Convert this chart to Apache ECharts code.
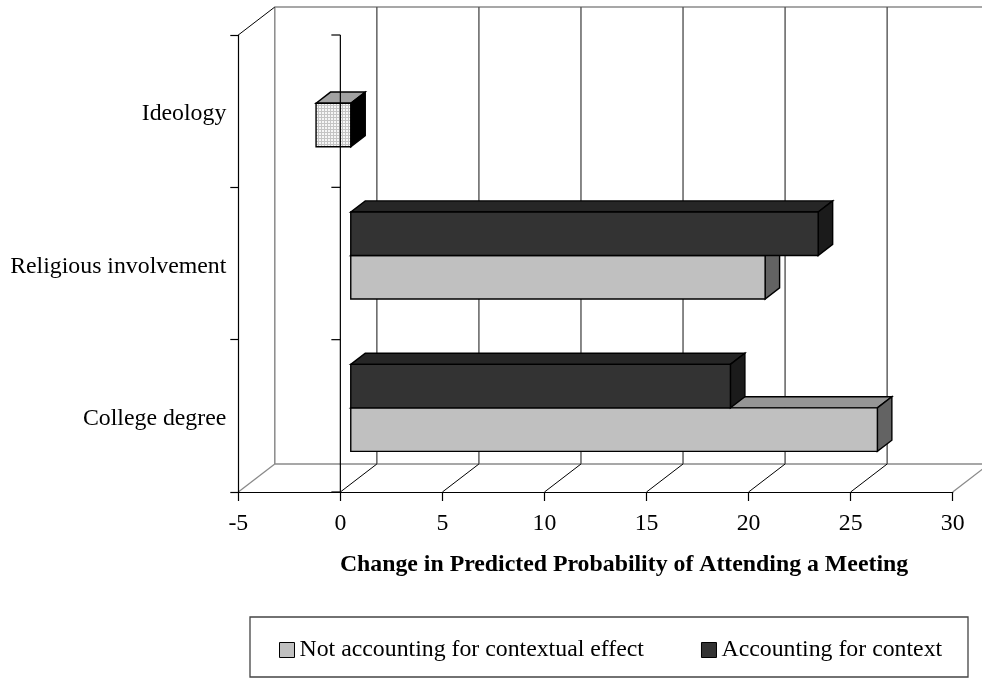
<!DOCTYPE html>
<html>
<head>
<meta charset="utf-8">
<script src="https://cdn.jsdelivr.net/npm/echarts@6/dist/echarts.min.js"></script>
<style>
  html, body { margin: 0; padding: 0; background: #ffffff; }
  #chart { width: 982px; height: 679px; }
</style>
</head>
<body>
<div id="chart"></div>
<script>
// ---- data ----
const categories = ['College degree', 'Religious involvement', 'Ideology'];
const seriesNames = ['Not accounting for contextual effect', 'Accounting for context'];
const notAccounting = [25.8, 20.3, -1.7];
const accounting = [18.6, 22.9, 0];
const xTicks = [-5, 0, 5, 10, 15, 20, 25, 30];
const axisTitle = 'Change in Predicted Probability of Attending a Meeting';

// ---- look ----
const FONT = '"Liberation Serif", "Times New Roman", serif';
const FONT_SIZE = 23.8;
const DEPTH = [36.5, -28];        // oblique offset from front plane to back wall
const BAR_FRONT = 0.285;          // bars start this far into the box
const BAR_DEPTH = 0.397;          // bar thickness as share of box depth
const GAP_WIDTH = 1.5;            // gap between bar groups, in bar heights
const WALL = '#8a8a8a';
const GRID = '#555555';

// fine grid texture used on the highlighted Ideology bar
const texture = document.createElement('canvas');
texture.width = 3; texture.height = 3;
(function () {
  const g = texture.getContext('2d');
  g.fillStyle = '#f6f6f6'; g.fillRect(0, 0, 3, 3);
  g.fillStyle = '#c4c4c4'; g.fillRect(0, 0, 3, 1); g.fillRect(0, 0, 1, 3);
})();

const faceStyles = [
  { front: '#c0c0c0', top: '#959595', side: '#636363' },
  { front: '#333333', top: '#262626', side: '#1b1b1b' }
];
const highlightStyle = { front: { image: texture, repeat: 'repeat' }, top: '#a2a2a2', side: '#000000' };

function line(x1, y1, x2, y2, stroke, w) {
  return { type: 'line', shape: { x1, y1, x2, y2 }, style: { stroke, lineWidth: w || 1 }, silent: true };
}

// walls, floor and back-wall grid of the 3D box
function renderFrame(params, api) {
  const cs = params.coordSys;
  const top = cs.y, bottom = cs.y + cs.height;
  const xv = v => api.coord([v, 0])[0];
  const [dx, dy] = DEPTH;
  const xl = xv(xTicks[0]), xr = xv(xTicks[xTicks.length - 1]);
  const ch = [];
  // back wall outline
  ch.push(line(xl + dx, top + dy, xr + dx, top + dy, WALL, 1.5));
  ch.push(line(xl + dx, top + dy, xl + dx, bottom + dy, WALL, 1.5));
  ch.push(line(xl + dx, bottom + dy, xr + dx, bottom + dy, WALL, 1.5));
  // back wall vertical grid
  xTicks.slice(1).forEach(v => ch.push(line(xv(v) + dx, top + dy, xv(v) + dx, bottom + dy, GRID, 1.4)));
  // left wall
  ch.push(line(xl, top, xl + dx, top + dy, '#000', 1));
  ch.push(line(xl, bottom, xl + dx, bottom + dy, WALL, 1.3));
  // floor grid
  xTicks.slice(1).forEach((v, i, arr) => {
    const last = i === arr.length - 1;
    ch.push(line(xv(v), bottom, xv(v) + dx, bottom + dy, last ? WALL : '#000', last ? 1.3 : 1));
  });
  return { type: 'group', children: ch };
}

// category axis drawn through zero on the front plane
function renderZeroAxis(params, api) {
  const cs = params.coordSys;
  const top = cs.y, bottom = cs.y + cs.height;
  const x0 = api.coord([0, 0])[0];
  const band = api.size([0, 1])[1];
  const ch = [line(x0, top, x0, bottom, '#000', 1.2)];
  for (let i = 0; i <= categories.length; i++) {
    const y = bottom - i * band;
    ch.push(line(x0 - 9, y, x0, y, '#000', 1.2));
  }
  return { type: 'group', children: ch };
}

function barRenderer(slot) {
  return function (params, api) {
    const value = api.value(0), cat = api.value(1);
    if (!value) return null;
    const c0 = api.coord([0, cat]), c1 = api.coord([value, cat]);
    const band = api.size([0, 1])[1];
    const bh = band / (2 + GAP_WIDTH);
    const ox = DEPTH[0] * BAR_FRONT, oy = DEPTH[1] * BAR_FRONT;
    const dx = DEPTH[0] * BAR_DEPTH, dy = DEPTH[1] * BAR_DEPTH;
    const yTop = c0[1] + (slot === 0 ? 0 : -bh) + oy;
    const yBot = yTop + bh;
    const xa = Math.min(c0[0], c1[0]) + ox, xb = Math.max(c0[0], c1[0]) + ox;
    const st = (slot === 0 && categories[cat] === 'Ideology') ? highlightStyle : faceStyles[slot];
    const edge = { stroke: '#000', lineWidth: 1.4, lineJoin: 'miter' };
    return {
      type: 'group',
      children: [
        { type: 'polygon', shape: { points: [[xa, yTop], [xb, yTop], [xb + dx, yTop + dy], [xa + dx, yTop + dy]] },
          style: Object.assign({ fill: st.top }, edge) },
        { type: 'polygon', shape: { points: [[xb, yTop], [xb + dx, yTop + dy], [xb + dx, yBot + dy], [xb, yBot]] },
          style: Object.assign({ fill: st.side }, edge) },
        { type: 'rect', shape: { x: xa, y: yTop, width: xb - xa, height: bh },
          style: Object.assign({ fill: st.front }, edge) }
      ]
    };
  };
}

const chart = echarts.init(document.getElementById('chart'), null, { renderer: 'canvas' });

chart.setOption({
  animation: false,
  backgroundColor: '#ffffff',
  grid: { left: 238.3, right: 29.3, top: 35, bottom: 187, containLabel: false },
  xAxis: {
    type: 'value',
    min: xTicks[0], max: xTicks[xTicks.length - 1], interval: 5,
    z: 10,
    axisLine: { show: true, onZero: false, lineStyle: { color: '#000', width: 1.2 } },
    axisTick: { show: true, length: 9, lineStyle: { color: '#000', width: 1.2 } },
    axisLabel: { margin: 20, color: '#000', fontFamily: FONT, fontSize: FONT_SIZE },
    splitLine: { show: false }
  },
  yAxis: {
    type: 'category',
    data: categories,
    z: 10,
    axisLine: { show: true, onZero: false, lineStyle: { color: '#000', width: 1.2 } },
    axisTick: { show: true, length: 8, lineStyle: { color: '#000', width: 1.2 } },
    axisLabel: {
      margin: 12,
      formatter: v => '{c|' + v + '}',
      rich: { c: { color: '#000', fontFamily: FONT, fontSize: FONT_SIZE, padding: [6, 0, 0, 0] } }
    },
    splitLine: { show: false }
  },
  legend: {
    data: seriesNames,
    left: 279, top: 638, padding: 0,
    itemWidth: 15, itemHeight: 15, itemGap: 57,
    icon: 'rect',
    itemStyle: { borderColor: '#000', borderWidth: 1 },
    textStyle: { color: '#000', fontFamily: FONT, fontSize: FONT_SIZE },
    selectedMode: false
  },
  graphic: [
    { type: 'rect', shape: { x: 250, y: 617, width: 718, height: 60 },
      style: { fill: 'none', stroke: '#444', lineWidth: 1.3 }, z: -1 },
    { type: 'text', x: 624, y: 565,
      style: { text: axisTitle, textAlign: 'center', textVerticalAlign: 'middle',
               font: 'bold ' + FONT_SIZE + 'px ' + FONT, fill: '#000' } }
  ],
  series: [
    { type: 'custom', name: 'frame', z: 1, silent: true, renderItem: renderFrame, data: [[0, 0]] },
    { type: 'custom', name: seriesNames[0], z: 3, itemStyle: { color: faceStyles[0].front },
      renderItem: barRenderer(0), data: notAccounting.map((v, i) => [v, i]), encode: { x: 0, y: 1 } },
    { type: 'custom', name: seriesNames[1], z: 4, itemStyle: { color: faceStyles[1].front },
      renderItem: barRenderer(1), data: accounting.map((v, i) => [v, i]), encode: { x: 0, y: 1 } },
    { type: 'custom', name: 'zero', z: 6, silent: true, renderItem: renderZeroAxis, data: [[0, 0]] }
  ]
});
</script>
</body>
</html>
